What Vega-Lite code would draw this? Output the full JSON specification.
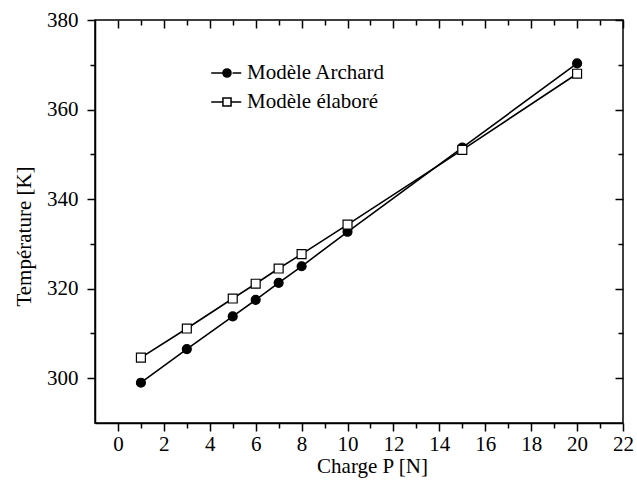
{
  "$schema": "https://vega.github.io/schema/vega-lite/v6.json",
  "width": 528,
  "height": 403,
  "autosize": {"type": "none"},
  "padding": {"left": 95, "top": 20, "right": 14, "bottom": 65},
  "config": {
    "font": "Liberation Serif, Times New Roman, serif",
    "view": {"stroke": "black", "strokeWidth": 1.5},
    "axis": {
      "domainColor": "black", "domainWidth": 1.5,
      "tickColor": "black", "tickWidth": 1.5,
      "labelColor": "black", "titleColor": "black",
      "labelFont": "Liberation Serif, Times New Roman, serif", "titleFont": "Liberation Serif, Times New Roman, serif",
      "labelFontSize": 21, "titleFontSize": 21, "titleFontWeight": "normal",
      "grid": false, "labelFlush": false, "labelOverlap": false
    },
    "legend": {
      "labelFont": "Liberation Serif, Times New Roman, serif"
    }
  },
  "data": {
    "values": [
      {"P": 1, "T": 299.0, "series": "Modèle Archard"},
      {"P": 3, "T": 306.5, "series": "Modèle Archard"},
      {"P": 5, "T": 313.8, "series": "Modèle Archard"},
      {"P": 6, "T": 317.5, "series": "Modèle Archard"},
      {"P": 7, "T": 321.3, "series": "Modèle Archard"},
      {"P": 8, "T": 325.0, "series": "Modèle Archard"},
      {"P": 10, "T": 332.7, "series": "Modèle Archard"},
      {"P": 15, "T": 351.5, "series": "Modèle Archard"},
      {"P": 20, "T": 370.3, "series": "Modèle Archard"},
      {"P": 1, "T": 304.6, "series": "Modèle élaboré"},
      {"P": 3, "T": 311.1, "series": "Modèle élaboré"},
      {"P": 5, "T": 317.8, "series": "Modèle élaboré"},
      {"P": 6, "T": 321.1, "series": "Modèle élaboré"},
      {"P": 7, "T": 324.5, "series": "Modèle élaboré"},
      {"P": 8, "T": 327.7, "series": "Modèle élaboré"},
      {"P": 10, "T": 334.3, "series": "Modèle élaboré"},
      {"P": 15, "T": 351.0, "series": "Modèle élaboré"},
      {"P": 20, "T": 368.0, "series": "Modèle élaboré"}
    ]
  },
  "resolve": {"axis": {"x": "independent", "y": "independent"}},
  "layer": [
    {
      "mark": {"type": "line", "color": "black", "strokeWidth": 1.6},
      "encoding": {
        "x": {
          "field": "P", "type": "quantitative",
          "scale": {"domain": [-1, 22], "nice": false, "zero": false},
          "axis": {
            "orient": "bottom",
            "values": [0,1,2,3,4,5,6,7,8,9,10,11,12,13,14,15,16,17,18,19,20,21,22],
            "tickSize": {"condition": {"test": "datum.value % 2 === 0", "value": 8}, "value": 5},
            "labelExpr": "datum.value % 2 === 0 ? datum.label : ''",
            "labelPadding": 2,
            "title": "Charge P [N]",
            "titlePadding": 1,
            "titleX": 277
          }
        },
        "y": {
          "field": "T", "type": "quantitative",
          "scale": {"domain": [290, 380], "nice": false, "zero": false},
          "axis": {
            "orient": "left",
            "values": [300,310,320,330,340,350,360,370,380],
            "tickSize": {"condition": {"test": "datum.value % 20 === 0", "value": 8}, "value": 5},
            "labelExpr": "datum.value % 20 === 0 ? datum.label : ''",
            "labelPadding": 9,
            "title": "Température [K]",
            "titlePadding": 12,
            "titleY": 216
          }
        },
        "detail": {"field": "series"}
      }
    },
    {
      "transform": [{"filter": "datum.series === 'Modèle Archard'"}],
      "mark": {"type": "point", "shape": "circle", "filled": true, "stroke": "black", "strokeWidth": 1.2, "size": 80, "opacity": 1},
      "encoding": {
        "x": {"field": "P", "type": "quantitative", "axis": null},
        "y": {"field": "T", "type": "quantitative", "axis": null},
        "fill": {
          "field": "series", "type": "nominal",
          "scale": {"domain": ["Modèle Archard", "Modèle élaboré"], "range": ["black", "white"]}
        }
      }
    },
    {
      "transform": [{"filter": "datum.series === 'Modèle élaboré'"}],
      "mark": {"type": "point", "shape": "square", "filled": true, "stroke": "black", "strokeWidth": 1.2, "size": 80, "opacity": 1},
      "encoding": {
        "x": {"field": "P", "type": "quantitative", "axis": null},
        "y": {"field": "T", "type": "quantitative", "axis": null},
        "fill": {"field": "series", "type": "nominal"}
      }
    },
    {
      "mark": {"type": "point", "filled": true, "size": 0, "strokeWidth": 0},
      "encoding": {
        "x": {"field": "P", "type": "quantitative", "axis": null},
        "y": {"field": "T", "type": "quantitative", "axis": null},
        "fill": {"field": "series", "type": "nominal"},
        "shape": {
          "field": "series", "type": "nominal",
          "scale": {
            "domain": ["Modèle Archard", "Modèle élaboré"],
            "range": [
              "M-1.05,0H-0.27M-0.27,0A0.27,0.27 0 1,0 0.27,0A0.27,0.27 0 1,0 -0.27,0ZM0.37,0H0.95",
              "M-1.05,0H-0.27M-0.27,-0.27H0.27V0.27H-0.27ZM0.27,0H0.95"
            ]
          },
          "legend": {
            "orient": "none", "legendX": 116, "legendY": 37,
            "title": null, "padding": 0, "rowPadding": 3,
            "symbolSize": 900, "symbolStrokeColor": "black", "symbolStrokeWidth": 1.5, "symbolOpacity": 1,
            "labelFont": "Liberation Serif, Times New Roman, serif", "labelFontSize": 21, "labelColor": "black",
            "labelOffset": 4, "labelLimit": 400
          }
        }
      }
    },
    {
      "mark": {"type": "point", "opacity": 0},
      "encoding": {
        "x": {
          "field": "P", "type": "quantitative",
          "axis": {
            "orient": "top", "domain": false, "labels": false, "title": null,
            "values": [0,1,2,3,4,5,6,7,8,9,10,11,12,13,14,15,16,17,18,19,20,21,22],
            "tickSize": {"condition": {"test": "datum.value % 2 === 0", "value": -8}, "value": -5}
          }
        },
        "y": {
          "field": "T", "type": "quantitative",
          "axis": {
            "orient": "right", "domain": false, "labels": false, "title": null,
            "values": [300,310,320,330,340,350,360,370,380],
            "tickSize": {"condition": {"test": "datum.value % 20 === 0", "value": -8}, "value": -5}
          }
        }
      }
    }
  ]
}
